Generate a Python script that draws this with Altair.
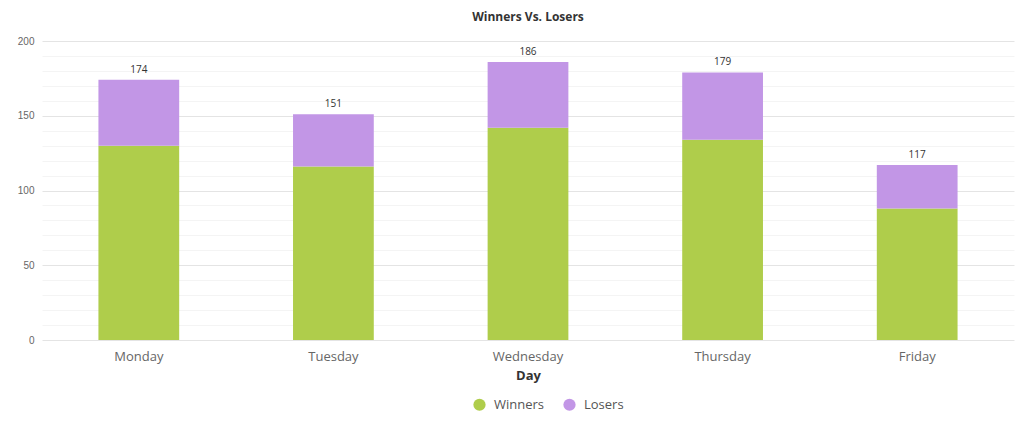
import altair as alt
import pandas as pd

days = ["Monday", "Tuesday", "Wednesday", "Thursday", "Friday"]
winners = [130, 116, 142, 134, 88]
losers = [44, 35, 44, 45, 29]
series = ["Winners", "Losers"]
colors = ["#afcd4b", "#c296e6"]
y_ticks = list(range(0, 201, 10))

rows = []
for d, w, l in zip(days, winners, losers):
    rows.append({"Day": d, "Series": "Winners", "Value": w, "ord": 0})
    rows.append({"Day": d, "Series": "Losers", "Value": l, "ord": 1})
df = pd.DataFrame(rows)
totals = pd.DataFrame({"Day": days, "Total": [w + l for w, l in zip(winners, losers)]})

FONT = "Open Sans"

y_axis = alt.Axis(
    values=y_ticks,
    labelExpr="datum.value % 50 === 0 ? datum.label : ''",
    labelFontSize=10, labelColor="#666666", labelFont="Liberation Sans",
    labelPadding=8, ticks=False, domain=False,
    gridColor={"condition": {"test": "datum.value % 50 === 0", "value": "#e4e4e4"}, "value": "#f4f4f4"},
    gridWidth=1,
)
y_scale = alt.Scale(domain=[0, 200], nice=False)

x_axis = alt.Axis(
    labelAngle=0, labelFontSize=13, labelColor="#666666", labelFont=FONT,
    titleFontSize=13, titleFontWeight="bold", titleColor="#333333", titleFont=FONT,
    titlePadding=6, labelPadding=10, ticks=False, domain=False,
    grid=False,
)
x_scale = alt.Scale(paddingInner=0.585, paddingOuter=0.29)

bars = alt.Chart(df).mark_bar(opacity=1).encode(
    x=alt.X("Day:N", sort=days, title="Day", scale=x_scale, axis=x_axis),
    y=alt.Y("Value:Q", stack="zero", title=None, scale=y_scale, axis=y_axis),
    color=alt.Color(
        "Series:N",
        scale=alt.Scale(domain=series, range=colors),
        legend=alt.Legend(
            title=None, orient="none", direction="horizontal",
            legendX=431, legendY=357,
            symbolType="circle", symbolSize=150, symbolStrokeWidth=0,
            labelFontSize=13, labelColor="#555555", labelFont=FONT,
            columnPadding=18, symbolOffset=0, labelOffset=8,
        ),
    ),
    order=alt.Order("ord:Q", sort="ascending"),
)

labels = alt.Chart(totals).mark_text(
    dy=-5, fontSize=10, color="#333333", font=FONT, baseline="bottom"
).encode(
    x=alt.X("Day:N", sort=days, title="Day", scale=x_scale, axis=x_axis),
    y=alt.Y("Total:Q", title=None, scale=y_scale, axis=y_axis),
    text="Total:Q",
)

chart = (
    alt.layer(bars, labels)
    .properties(
        width=972,
        height=299,
        title=alt.TitleParams(
            "Winners Vs. Losers", fontSize=12, fontWeight="bold", color="#333333",
            font=FONT, anchor="middle", offset=12,
        ),
        autosize=alt.AutoSizeParams(type="none"),
        padding={"left": 34, "top": 33, "right": 2, "bottom": 82},
        view=alt.ViewBackground(strokeWidth=0, strokeOpacity=0),
    )
    .configure_view(strokeWidth=0, strokeOpacity=0)
    .configure_axis(domain=False)
    .configure_axisX(grid=False)
    .configure_axisBand(grid=False)
    .configure(background="white")
)

chart.save("out.html", embed_options={"renderer": "svg", "actions": False})
